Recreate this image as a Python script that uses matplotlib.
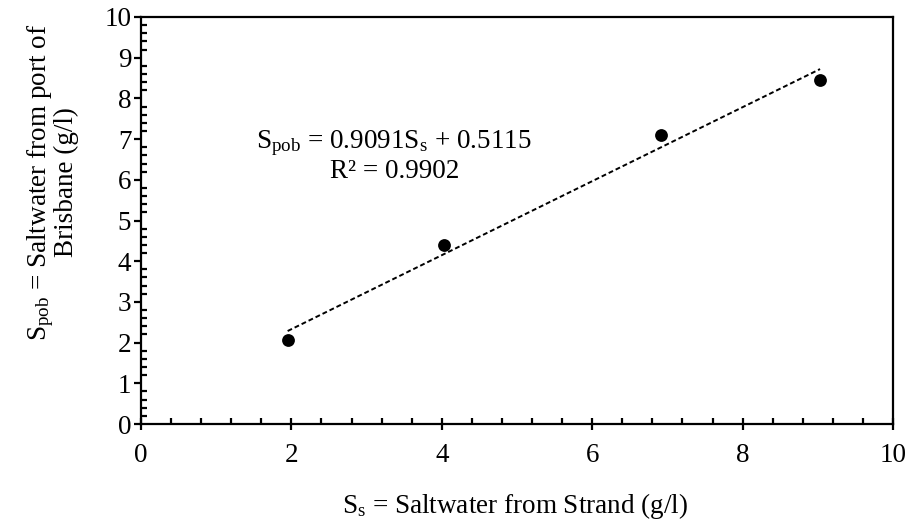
import matplotlib
matplotlib.use("Agg")
import matplotlib.pyplot as plt
import numpy as np
from matplotlib.ticker import MultipleLocator

plt.rcParams['font.family'] = ['Liberation Serif', 'DejaVu Serif']
plt.rcParams['mathtext.fontset'] = 'custom'
plt.rcParams['mathtext.rm'] = 'Liberation Serif'
plt.rcParams['mathtext.it'] = 'Liberation Serif'

# data
s_strand = [1.95, 4.03, 6.92, 9.03]
s_pob = [2.06, 4.39, 7.10, 8.46]
slope = 0.9091
intercept = 0.5115
r2 = 0.9902

W, H = 909, 520
fig = plt.figure(figsize=(W / 100, H / 100), dpi=100)
ax = fig.add_axes([141 / W, 1 - 424 / H, (893 - 141) / W, (424 - 17) / H])

xs = np.array([min(s_strand), max(s_strand)])
ax.plot(xs, slope * xs + intercept, color='black', lw=1.4, dashes=(2.5, 1.5))
ax.scatter(s_strand, s_pob, s=85, color='black', zorder=3, linewidths=0)

ax.set_xlim(0, 10)
ax.set_ylim(0, 10)
ax.xaxis.set_major_locator(MultipleLocator(2))
ax.xaxis.set_minor_locator(MultipleLocator(0.4))
ax.yaxis.set_major_locator(MultipleLocator(1))
ax.yaxis.set_minor_locator(MultipleLocator(0.2))

for sp in ax.spines.values():
    sp.set_linewidth(1.6)
ax.tick_params(axis='x', which='major', direction='inout', length=9, width=1.6, labelsize=19.5, pad=9)
ax.tick_params(axis='x', which='minor', direction='in', length=4, width=1.6)
ax.tick_params(axis='y', which='major', direction='out', length=5, width=1.6, labelsize=19.5, pad=2)
ax.tick_params(axis='y', which='minor', direction='in', length=4.5, width=1.6)

fig.text(515 / W, 1 - 513 / H, r'$\mathregular{S_s}$ = Saltwater from Strand (g/l)',
         fontsize=19.5, ha='center', va='baseline')
fig.text(52 / W, 1 - 182 / H, r'$\mathregular{S_{pob}}$ = Saltwater from port of' + '\n' + 'Brisbane (g/l)',
         fontsize=19.5, ha='center', va='center', rotation=90, linespacing=0.9,
         multialignment='center')

ax.text(3.36, 6.78, r'$\mathregular{S_{pob}}$ = %.4f$\mathregular{S_s}$ + %.4f' % (slope, intercept),
        fontsize=19.5, ha='center', va='baseline')
ax.text(3.38, 6.04, 'R² = %.4f' % r2, fontsize=19.5, ha='center', va='baseline')

fig.savefig('out.png', dpi=100)
